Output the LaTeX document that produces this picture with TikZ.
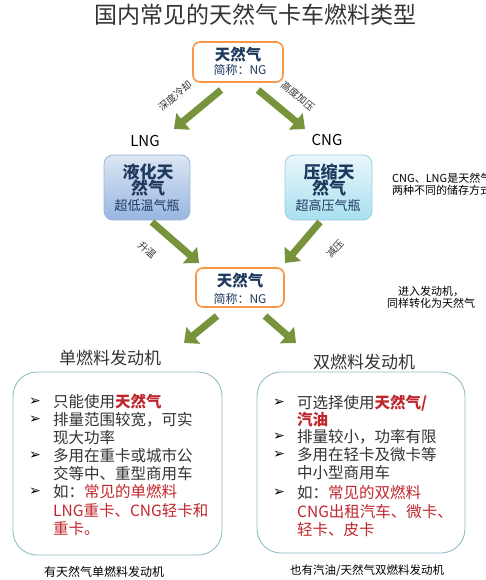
\documentclass[tikz,border=0pt]{standalone}
\usepackage{fontspec}
\setmainfont{Noto Sans CJK SC}
\newfontfamily\dejavu{DejaVu Sans}
\usetikzlibrary{arrows.meta}
\definecolor{arrowgreen}{HTML}{77933C}
\definecolor{ngorange}{HTML}{F79646}
\definecolor{navy}{HTML}{1F3A5F}
\definecolor{txt}{HTML}{333333}
\definecolor{redtxt}{HTML}{C0272D}
\definecolor{enginebd}{HTML}{93BDC6}
\definecolor{lngtop}{HTML}{DCE6F4}
\definecolor{lngbot}{HTML}{98B6E0}
\definecolor{lngbd}{HTML}{9DB5DA}
\definecolor{cngtop}{HTML}{EAF7FB}
\definecolor{cngbot}{HTML}{A8E0F0}
\definecolor{cngbd}{HTML}{9CCCDC}
\newcommand{\fs}[1]{\fontsize{#1}{#1}\selectfont}
\newcommand{\rt}[1]{{\color{redtxt}#1}}
\begin{document}
\begin{tikzpicture}[x=1pt,y=-1pt,
  ngbox/.style={draw=ngorange,line width=1.6pt,rounded corners=7pt,fill=white,inner sep=0pt},
  lngbox/.style={draw=lngbd,line width=0.8pt,rounded corners=9pt,top color=lngtop,bottom color=lngbot,inner sep=0pt,minimum width=86pt,minimum height=65pt},
  cngbox/.style={draw=cngbd,line width=0.8pt,rounded corners=9pt,top color=cngtop,bottom color=cngbot,inner sep=0pt,minimum width=87pt,minimum height=65pt},
  engbox/.style={draw=enginebd,line width=0.9pt,rounded corners=24pt,fill=white,inner sep=0pt},
  bigarrow/.style={draw=arrowgreen,line width=7pt,-{Triangle[length=12pt,width=21pt]},fill=arrowgreen},
  plain/.style={inner sep=0pt,text=txt},
  ngtitle/.style={inner sep=0pt,text=navy,font=\fs{15.5}\bfseries},
  ngsub/.style={inner sep=0pt,text=navy,font=\fs{12}},
  arrlabel/.style={inner sep=0pt,text=txt,font=\fs{10}},
  bl/.style={inner sep=0pt,anchor=west,text=txt,font=\fs{15.5}},
  bu/.style={inner sep=0pt,anchor=west,text=black,font=\dejavu\fs{14}}
]
\useasboundingbox (0,0) rectangle (485,580);

% title
\node[plain,font=\fs{23}] (title) at (255,15) {国内常见的天然气卡车燃料类型};

% top NG box
\node[ngbox,minimum width=90pt,minimum height=40pt] (ng1) at (238,62) {};
\node[ngtitle] (ng1t) at (238,55) {天然气};
\node[ngsub] (ng1s) at (240,70) {简称：NG};

% LNG / CNG labels
\node[plain,text=black,font=\fs{15}] (lnglab) at (145,141) {LNG};
\node[plain,text=black,font=\fs{15}] (cnglab) at (327,140) {CNG};

% LNG box
\node[lngbox] (lng) at (147,187.5) {};
\node[ngtitle,font=\fs{17}\bfseries] (lngt1) at (148,172) {液化天};
\node[ngtitle,font=\fs{17}\bfseries] (lngt2) at (148,188) {然气};
\node[ngsub,font=\fs{13}] (lngs) at (147,206) {超低温气瓶};

% CNG box
\node[cngbox] (cng) at (328.5,187.5) {};
\node[ngtitle,font=\fs{17}\bfseries] (cngt1) at (329,172) {压缩天};
\node[ngtitle,font=\fs{17}\bfseries] (cngt2) at (329,188) {然气};
\node[ngsub,font=\fs{13}] (cngs) at (328,206) {超高压气瓶};

% side note 1 (cut at the right edge, as in the reference)
\node[plain,anchor=west,font=\fs{11},align=left,text=black] (note1) at (392,184) {CNG、LNG是天然气\\[1pt]两种不同的储存方式};

% middle NG box
\node[ngbox,minimum width=88pt,minimum height=39pt] (ng2) at (240,287.5) {};
\node[ngtitle] (ng2t) at (240,281) {天然气};
\node[ngsub] (ng2s) at (240,299) {简称：NG};

% side note 2
\node[plain,font=\fs{11},align=center,text=black] (note2) at (431,297) {进入发动机，\\[1pt]同样转化为天然气};

% arrows
\coordinate (a1s) at (221,90);  \coordinate (a1e) at (174,129);
\coordinate (a2s) at (258,90);  \coordinate (a2e) at (305,129);
\coordinate (a3s) at (152,222); \coordinate (a3e) at (199,263);
\coordinate (a4s) at (320,222); \coordinate (a4e) at (285,263);
\coordinate (a5s) at (217,316); \coordinate (a5e) at (184,343);
\coordinate (a6s) at (265,316); \coordinate (a6e) at (296,343);
\draw[bigarrow] (a1s) -- (a1e);
\draw[bigarrow] (a2s) -- (a2e);
\draw[bigarrow] (a3s) -- (a3e);
\draw[bigarrow] (a4s) -- (a4e);
\draw[bigarrow] (a5s) -- (a5e);
\draw[bigarrow] (a6s) -- (a6e);

% arrow labels
\node[arrlabel,rotate=40] (l1) at (175,96) {深度冷却};
\node[arrlabel,rotate=-40] (l2) at (298,96) {高度加压};
\node[arrlabel,rotate=-42] (l3) at (147,250) {升温};
\node[arrlabel,rotate=48] (l4) at (335,249) {减压};

% engine headers
\node[plain,font=\fs{17}] (h1) at (110,358) {单燃料发动机};
\node[plain,font=\fs{17}] (h2) at (364,362) {双燃料发动机};

% engine boxes
\node[engbox,minimum width=209pt,minimum height=183pt] (e1) at (117.5,463.5) {};
\node[engbox,minimum width=208pt,minimum height=181pt] (e2) at (361,462.5) {};

% left bullets
\node[bu] (lb1) at (29,402) {➢};
\node[bl] (lt1) at (53,402) {只能使用\rt{\bfseries 天然气}};
\node[bu] (lb2) at (29,420) {➢};
\node[bl] (lt2) at (53,420) {排量范围较宽，可实};
\node[bl] (lt3) at (53,438) {现大功率};
\node[bu] (lb3) at (29,456) {➢};
\node[bl] (lt4) at (53,456) {多用在重卡或城市公};
\node[bl] (lt5) at (53,474) {交等中、重型商用车};
\node[bu] (lb4) at (29,492) {➢};
\node[bl] (lt6) at (53,492) {如：\rt{常见的单燃料}};
\node[bl] (lt7) at (53,511) {\rt{LNG重卡、CNG轻卡和}};
\node[bl] (lt8) at (53,529) {\rt{重卡。}};

% right bullets
\node[bu] (rb1) at (273,403) {➢};
\node[bl] (rt1) at (297,403) {可选择使用\rt{\bfseries 天然气/}};
\node[bl] (rt2) at (297,420) {\rt{\bfseries 汽油}};
\node[bu] (rb2) at (273,437) {➢};
\node[bl] (rt3) at (297,437) {排量较小，功率有限};
\node[bu] (rb3) at (273,455) {➢};
\node[bl] (rt4) at (297,455) {多用在轻卡及微卡等};
\node[bl] (rt5) at (297,473) {中小型商用车};
\node[bu] (rb4) at (273,493) {➢};
\node[bl] (rt6) at (297,493) {如：\rt{常见的双燃料}};
\node[bl] (rt7) at (297,512) {\rt{CNG出租汽车、微卡、}};
\node[bl] (rt8) at (297,530) {\rt{轻卡、皮卡}};

% captions
\node[plain,font=\fs{12},text=black] (c1) at (104,572) {有天然气单燃料发动机};
\node[plain,font=\fs{11.5},text=black] (c2) at (367,571) {也有汽油/天然气双燃料发动机};
\end{tikzpicture}
\end{document}
